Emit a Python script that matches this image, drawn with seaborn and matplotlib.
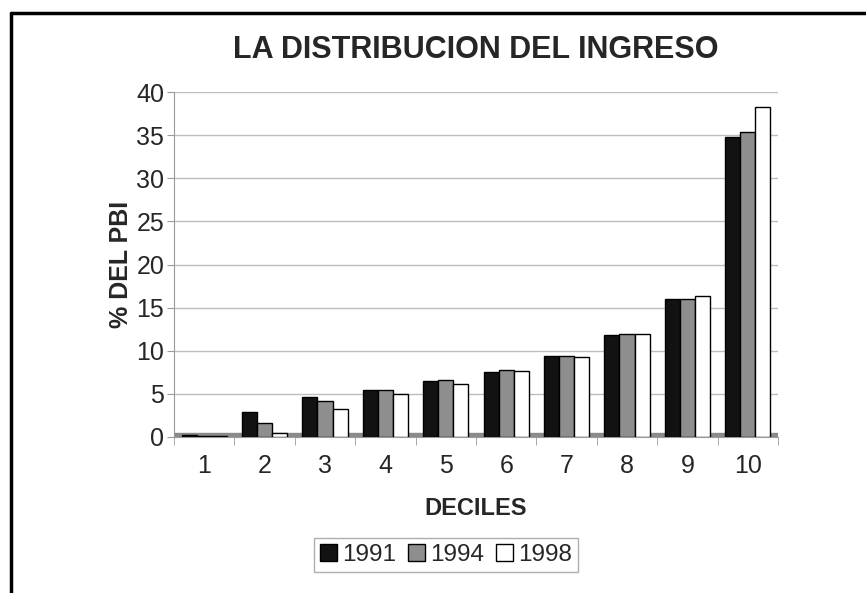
import matplotlib.pyplot as plt
import seaborn as sns
import pandas as pd
from matplotlib.lines import Line2D

# Data
deciles = ["1", "2", "3", "4", "5", "6", "7", "8", "9", "10"]
years = ["1991", "1994", "1998"]
share_1991 = [0.2, 2.9, 4.6, 5.4, 6.5, 7.5, 9.4, 11.8, 16.0, 34.8]
share_1994 = [0.1, 1.6, 4.2, 5.4, 6.6, 7.8, 9.4, 11.9, 16.0, 35.4]
share_1998 = [0.1, 0.5, 3.3, 5.0, 6.2, 7.7, 9.3, 11.9, 16.4, 38.3]

df = pd.DataFrame({
    "decil": deciles * 3,
    "year": [years[0]] * 10 + [years[1]] * 10 + [years[2]] * 10,
    "pbi": share_1991 + share_1994 + share_1998,
})

sns.set_style("white")
plt.rcParams["font.family"] = ["Liberation Sans", "DejaVu Sans"]

fig = plt.figure(figsize=(8.66, 5.93), dpi=100)
ax = fig.add_axes([174 / 866, 1 - 437 / 593, 604 / 866, 345 / 593])

colors = {"1991": "#121212", "1994": "#8e8e8e", "1998": "#ffffff"}
sns.barplot(data=df, x="decil", y="pbi", hue="year", palette=colors,
            width=0.75, edgecolor="black", linewidth=1.0, ax=ax, zorder=3)

# grey floor strip
ax.axhspan(0, 0.5, color="#8a8a8a", zorder=2)

ax.set_ylim(0, 40)
ax.set_xlim(-0.5, 9.5)
ax.set_yticks(range(0, 41, 5))
ax.yaxis.grid(True, color="#bdbdbd", linewidth=1.0, zorder=0)
ax.set_axisbelow(True)
for s in ["top", "right"]:
    ax.spines[s].set_visible(False)
ax.spines["left"].set_color("#9a9a9a")
ax.spines["bottom"].set_color("#9a9a9a")

ax.tick_params(axis="y", left=True, length=5, color="#9a9a9a", labelsize=18, pad=2)
ax.set_xticks([i + 0.5 for i in range(-1, 10)], minor=True)
ax.tick_params(axis="x", which="major", length=0, labelsize=18, pad=12)
ax.tick_params(axis="x", which="minor", bottom=True, length=6, color="#9a9a9a")

ax.set_xlabel("DECILES", fontsize=17, fontweight="bold", labelpad=14)
ax.set_ylabel("% DEL PBI", fontsize=18, fontweight="bold", labelpad=2)

fig.text(476 / 866, 1 - 50 / 593, "LA DISTRIBUCION DEL INGRESO", ha="center",
         va="center", fontsize=22, fontweight="bold")

ax.legend(loc="center", bbox_to_anchor=(446 / 866, 1 - 555 / 593),
          bbox_transform=fig.transFigure, ncol=3, frameon=True, fancybox=False,
          edgecolor="#9a9a9a", fontsize=17.5, handlelength=0.7, handleheight=0.7,
          handletextpad=0.2, columnspacing=0.5, borderpad=0.25)

# page frame (top and left edge)
fig.add_artist(Line2D([11 / 866, 1], [1 - 13 / 593] * 2, color="black", lw=2.5))
fig.add_artist(Line2D([11 / 866] * 2, [0, 1 - 13 / 593], color="black", lw=2.5))

fig.savefig("out.png", dpi=100)
